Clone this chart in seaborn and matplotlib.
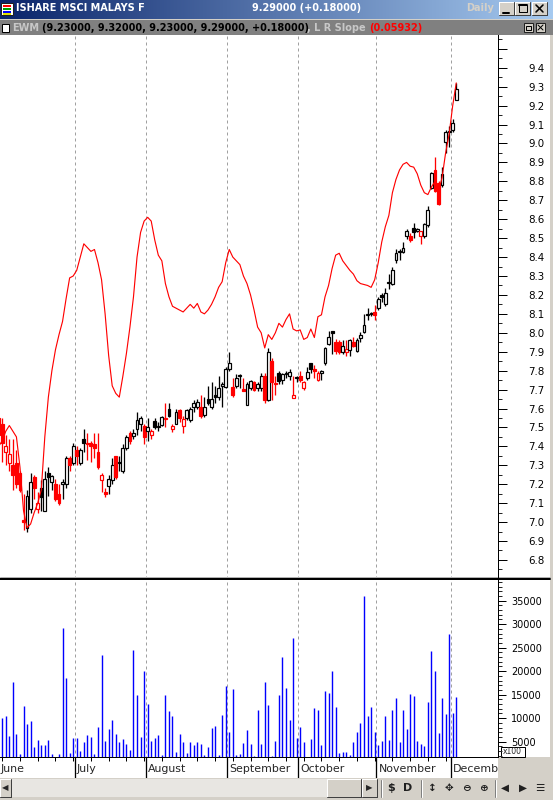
import numpy as np
import matplotlib
matplotlib.use("Agg")
import matplotlib.pyplot as plt
from matplotlib.patches import Rectangle
from matplotlib.colors import LinearSegmentedColormap
from matplotlib.ticker import MultipleLocator
import seaborn as sns

sns.set_style("white")
plt.rcParams['font.family'] = ['DejaVu Sans']

# ---- data (EWM daily, June - early December) ----
opens = [7.55, 7.52, 7.37, 7.31, 7.30, 7.31, 7.26, 7.01, 6.97, 7.07,
         7.24, 7.07, 7.18, 7.06, 7.26, 7.21, 7.20, 7.15, 7.20, 7.20,
         7.34, 7.31, 7.38, 7.31, 7.44, 7.42, 7.42, 7.41, 7.37, 7.22,
         7.16, 7.19, 7.22, 7.35, 7.31, 7.27, 7.39, 7.47, 7.455, 7.49,
         7.52, 7.51, 7.48, 7.46, 7.535, 7.50, 7.515, 7.55, 7.60, 7.49,
         7.52, 7.59, 7.51, 7.55, 7.54, 7.61, 7.61, 7.61, 7.565, 7.65,
         7.61, 7.67, 7.66, 7.72, 7.715, 7.81, 7.715, 7.72, 7.77, 7.705,
         7.62, 7.71, 7.74, 7.71, 7.71, 7.77, 7.645, 7.85, 7.735, 7.79,
         7.75, 7.78, 7.77, 7.657, 7.76, 7.77, 7.71, 7.76, 7.84, 7.81,
         7.75, 7.79, 7.84, 7.94, 8.01, 7.95, 7.95, 7.90, 7.90, 7.91,
         7.95, 7.905, 7.97, 8.006, 8.095, 8.10, 8.11, 8.13, 8.20, 8.15,
         8.265, 8.26, 8.385, 8.425, 8.425, 8.51, 8.51, 8.555, 8.54, 8.51,
         8.51, 8.57, 8.765, 8.86, 8.79, 8.78, 9.01, 9.06, 9.07, 9.23]
highs = [7.59, 7.55, 7.46, 7.44, 7.44, 7.38, 7.27, 7.15, 7.17, 7.26,
         7.25, 7.16, 7.22, 7.27, 7.29, 7.25, 7.23, 7.20, 7.23, 7.35,
         7.35, 7.42, 7.40, 7.39, 7.49, 7.47, 7.43, 7.47, 7.47, 7.26,
         7.18, 7.25, 7.34, 7.35, 7.35, 7.41, 7.46, 7.48, 7.49, 7.58,
         7.56, 7.52, 7.55, 7.49, 7.55, 7.53, 7.56, 7.63, 7.63, 7.52,
         7.60, 7.60, 7.56, 7.60, 7.61, 7.645, 7.65, 7.67, 7.66, 7.72,
         7.74, 7.72, 7.77, 7.74, 7.82, 7.90, 7.76, 7.78, 7.78, 7.76,
         7.74, 7.75, 7.745, 7.74, 7.79, 7.79, 7.92, 7.865, 7.77, 7.80,
         7.785, 7.80, 7.81, 7.77, 7.77, 7.80, 7.745, 7.82, 7.84, 7.83,
         7.80, 7.805, 7.925, 8.01, 8.01, 7.965, 7.96, 7.96, 7.96, 7.965,
         7.98, 7.97, 8.006, 8.10, 8.13, 8.11, 8.145, 8.19, 8.21, 8.235,
         8.31, 8.35, 8.44, 8.44, 8.48, 8.55, 8.525, 8.578, 8.555, 8.54,
         8.58, 8.67, 8.85, 8.93, 8.80, 8.877, 9.07, 9.09, 9.13, 9.32]
lows = [7.40, 7.32, 7.30, 7.27, 7.17, 7.18, 7.16, 6.96, 6.95, 7.05,
        7.12, 7.05, 7.06, 7.06, 7.14, 7.17, 7.11, 7.09, 7.12, 7.18,
        7.27, 7.30, 7.30, 7.30, 7.37, 7.33, 7.32, 7.34, 7.28, 7.16,
        7.13, 7.15, 7.20, 7.23, 7.27, 7.26, 7.38, 7.41, 7.44, 7.46,
        7.48, 7.41, 7.43, 7.44, 7.49, 7.48, 7.51, 7.50, 7.555, 7.475,
        7.52, 7.53, 7.47, 7.54, 7.53, 7.58, 7.60, 7.55, 7.555, 7.62,
        7.60, 7.63, 7.645, 7.61, 7.71, 7.80, 7.66, 7.71, 7.71, 7.69,
        7.62, 7.70, 7.69, 7.69, 7.69, 7.63, 7.64, 7.645, 7.67, 7.73,
        7.73, 7.76, 7.75, 7.655, 7.74, 7.74, 7.70, 7.75, 7.79, 7.76,
        7.745, 7.75, 7.83, 7.935, 7.89, 7.888, 7.89, 7.89, 7.88, 7.88,
        7.925, 7.90, 7.95, 8.00, 8.07, 8.09, 8.067, 8.12, 8.16, 8.14,
        8.23, 8.25, 8.37, 8.385, 8.42, 8.495, 8.48, 8.50, 8.53, 8.47,
        8.50, 8.56, 8.76, 8.745, 8.675, 8.77, 8.95, 8.98, 9.06, 9.23]
closes = [7.46, 7.42, 7.40, 7.36, 7.25, 7.20, 7.17, 7.00, 7.14, 7.21,
          7.18, 7.10, 7.13, 7.23, 7.24, 7.245, 7.12, 7.10, 7.21, 7.34,
          7.30, 7.40, 7.35, 7.38, 7.42, 7.41, 7.40, 7.39, 7.29, 7.25,
          7.15, 7.23, 7.30, 7.24, 7.32, 7.39, 7.45, 7.43, 7.47, 7.54,
          7.55, 7.45, 7.50, 7.48, 7.50, 7.51, 7.555, 7.545, 7.56, 7.51,
          7.58, 7.55, 7.545, 7.59, 7.595, 7.63, 7.635, 7.56, 7.61, 7.63,
          7.65, 7.66, 7.71, 7.73, 7.81, 7.84, 7.67, 7.76, 7.775, 7.695,
          7.73, 7.745, 7.70, 7.73, 7.77, 7.645, 7.90, 7.74, 7.73, 7.745,
          7.78, 7.79, 7.795, 7.67, 7.765, 7.75, 7.74, 7.795, 7.81, 7.80,
          7.79, 7.80, 7.92, 7.98, 8.00, 7.905, 7.90, 7.93, 7.915, 7.96,
          7.93, 7.96, 7.99, 8.04, 8.10, 8.105, 8.095, 8.18, 8.19, 8.21,
          8.27, 8.33, 8.42, 8.43, 8.45, 8.54, 8.49, 8.535, 8.55, 8.54,
          8.575, 8.65, 8.845, 8.75, 8.68, 8.84, 9.06, 9.065, 9.11, 9.29]
# volume in hundreds of shares (axis shows "x100")
volume = [2000, 10100, 10400, 6200, 17700, 6600, 2400, 12600, 8800, 9400,
          3900, 5400, 4300, 4300, 5400, 2400, 1800, 2400, 29200, 18500,
          2600, 5800, 5800, 3000, 4900, 6400, 6000, 2400, 8100, 23400,
          5100, 7700, 9600, 6600, 4900, 5600, 4500, 3200, 24500, 14900,
          6000, 20000, 13000, 5100, 5800, 6400, 2200, 14900, 11500, 10500,
          2800, 6600, 4900, 2600, 4900, 4300, 4900, 4500, 2200, 3900,
          7900, 8300, 2200, 10700, 16800, 7100, 16200, 2200, 2400, 4700,
          7500, 4500, 2000, 11700, 4500, 17700, 12800, 2000, 5100, 14900,
          23000, 16400, 9600, 27000, 5800, 8100, 4900, 1800, 5600, 12200,
          11700, 4300, 15800, 15300, 20000, 12400, 2600, 2800, 2800, 2200,
          4900, 7100, 9000, 36000, 10500, 12400, 7100, 4300, 5100, 10500,
          5400, 11700, 14300, 4900, 11700, 7700, 15100, 14700, 5100, 4500,
          4100, 13400, 24300, 20000, 6800, 14300, 10900, 27900, 11100, 14500]
# L R Slope indicator, drawn on the price scale
lr_slope = [7.40, 7.43, 7.48, 7.51, 7.48, 7.45, 7.29, 7.06, 6.97, 6.99,
            7.05, 7.10, 7.17, 7.45, 7.66, 7.80, 7.91, 7.99, 8.06, 8.18,
            8.29, 8.30, 8.33, 8.40, 8.47, 8.45, 8.43, 8.44, 8.37, 8.28,
            8.10, 7.88, 7.72, 7.68, 7.66, 7.77, 7.89, 8.03, 8.19, 8.40,
            8.53, 8.59, 8.61, 8.59, 8.49, 8.41, 8.38, 8.26, 8.19, 8.14,
            8.13, 8.12, 8.11, 8.13, 8.15, 8.13, 8.155, 8.11, 8.10, 8.12,
            8.15, 8.19, 8.24, 8.27, 8.37, 8.44, 8.40, 8.38, 8.36, 8.30,
            8.26, 8.20, 8.12, 8.03, 8.00, 7.92, 7.99, 7.965, 8.00, 8.05,
            8.03, 8.07, 8.10, 8.02, 8.01, 8.015, 7.965, 7.975, 8.02, 7.975,
            8.085, 8.095, 8.19, 8.25, 8.34, 8.41, 8.42, 8.38, 8.355, 8.33,
            8.31, 8.275, 8.26, 8.255, 8.25, 8.24, 8.28, 8.37, 8.48, 8.56,
            8.62, 8.74, 8.81, 8.86, 8.89, 8.90, 8.88, 8.875, 8.84, 8.78,
            8.74, 8.73, 8.77, 8.80, 8.745, 8.82, 8.95, 9.05, 9.20, 9.32]
months = ["June", "July", "August", "September", "October", "November", "December"]
month_start = [0, 22, 42, 65, 85, 107, 128]   # first bar of each month
price_ticks = [6.8, 6.9, 7.0, 7.1, 7.2, 7.3, 7.4, 7.5, 7.6, 7.7, 7.8, 7.9, 8.0, 8.1,
               8.2, 8.3, 8.4, 8.5, 8.6, 8.7, 8.8, 8.9, 9.0, 9.1, 9.2, 9.3, 9.4]
vol_ticks = [5000, 10000, 15000, 20000, 25000, 30000, 35000]

W, H = 553, 800
PX = 0.72  # one pixel in points


def frac(x0, y0, x1, y1):
    return [x0 / W, 1 - y1 / H, (x1 - x0) / W, (y1 - y0) / H]


fig = plt.figure(figsize=(W / 100, H / 100), dpi=100, facecolor='#d4d0c8')

# ---- window chrome drawn in pixel coordinates ----
bg = fig.add_axes([0, 0, 1, 1], zorder=-5)
bg.set_xlim(0, W)
bg.set_ylim(H, 0)
bg.axis('off')


def button(x, y, w, h):
    bg.add_patch(Rectangle((x, y), w, h, facecolor='#d4d0c8', edgecolor='none'))
    bg.plot([x, x + w], [y, y], color='white', lw=PX)
    bg.plot([x, x], [y, y + h], color='white', lw=PX)
    bg.plot([x, x + w], [y + h, y + h], color='#404040', lw=PX)
    bg.plot([x + w, x + w], [y, y + h], color='#404040', lw=PX)


# title bar gradient
grad = LinearSegmentedColormap.from_list('tb', ['#0a246a', '#a6caf0'])
bg.imshow(np.linspace(0, 1, 256)[None, :], cmap=grad, aspect='auto',
          extent=(0, W, 19, 0), zorder=0)
# small chart icon
bg.add_patch(Rectangle((1, 3), 12, 12, facecolor='white', edgecolor='#202020', lw=PX, zorder=1))
for yy, cc in zip([5, 8, 11], ['#ff0000', '#00a000', '#0000ff']):
    bg.add_patch(Rectangle((3, yy), 8, 2, facecolor=cc, edgecolor='none', zorder=2))
bg.add_patch(Rectangle((3, 13), 8, 1.5, facecolor='#e0e000', edgecolor='none', zorder=2))
bg.text(16, 8, "ISHARE MSCI MALAYS F", color='white', fontsize=7, fontweight='bold',
        va='center', ha='left')
bg.text(252, 8, "9.29000 (+0.18000)", color='white', fontsize=7, fontweight='bold',
        va='center', ha='left')
bg.text(466, 8, "Daily", color='#d4d0c8', fontsize=7, fontweight='bold',
        va='center', ha='left')
for bx in [499, 515, 532]:
    button(bx, 2, 15, 13)
bg.plot([503, 509], [12.5, 12.5], color='black', lw=2 * PX)
bg.add_patch(Rectangle((518.5, 4.5), 8, 7.5, facecolor='none', edgecolor='black', lw=PX))
bg.plot([518.5, 526.5], [5, 5], color='black', lw=2 * PX)
bg.plot([536, 543], [5, 12], color='black', lw=1.6 * PX)
bg.plot([536, 543], [12, 5], color='black', lw=1.6 * PX)

# indicator header bar
bg.add_patch(Rectangle((0, 20), W, 15, facecolor='#808080', edgecolor='none'))
bg.add_patch(Rectangle((1.5, 23.5), 7, 8, facecolor='white', edgecolor='black', lw=PX))
bg.text(12, 27.8, "EWM", color='#c8c8c8', fontsize=7, fontweight='bold', va='center')
bg.text(41.5, 27.8, "(9.23000, 9.32000, 9.23000, 9.29000, +0.18000)", color='black',
        fontsize=7, fontweight='bold', va='center')
bg.text(307, 27.8, ", L R Slope", color='#c8c8c8', fontsize=7, fontweight='bold', va='center')
bg.text(369.5, 27.8, "(0.05932)", color='#ff0000', fontsize=7, fontweight='bold', va='center')
for bx in [524, 536]:
    bg.add_patch(Rectangle((bx, 23), 9, 9, facecolor='#d4d0c8', edgecolor='#202020', lw=PX))
bg.add_patch(Rectangle((526, 25.5), 5, 4, facecolor='none', edgecolor='black', lw=PX))
bg.plot([538, 543], [25, 30], color='black', lw=PX)
bg.plot([538, 543], [30, 25], color='black', lw=PX)

# white chart backdrop and panel separator
bg.add_patch(Rectangle((0, 35), 550, 722, facecolor='white', edgecolor='none'))
bg.plot([0, 550], [576.8, 576.8], color='#b0b0b0', lw=PX)
bg.plot([0, 550], [578.8, 578.8], color='black', lw=2 * PX)

# x100 marker of the volume scale
bg.add_patch(Rectangle((500.5, 746.5), 24, 10.5, facecolor='white', edgecolor='black', lw=PX))
bg.text(512.5, 752, "x100", fontsize=5.5, va='center', ha='center')

# scrollbar and toolbar
button(0, 779, 11, 18)
bg.text(5.5, 788, "◀", fontsize=6, ha='center', va='center')
bg.add_patch(Rectangle((11, 779), 316, 18, facecolor='#e8e6e2', edgecolor='none'))
button(327, 779, 34, 18)
button(362, 779, 15, 18)
bg.text(369.5, 788, "▶", fontsize=6, ha='center', va='center')
for sx in [381, 421, 495]:
    bg.plot([sx, sx], [780, 797], color='#808080', lw=PX)
    bg.plot([sx + 1, sx + 1], [780, 797], color='white', lw=PX)
for tx, sym in zip([391, 408, 432, 449, 466, 483, 505, 523, 540],
                   ["$", "D", "↕", "✥", "⊖", "⊕", "◀", "▶", "☰"]):
    bg.text(tx, 788, sym, fontsize=8 if sym in "$D" else 7.5, fontweight='bold',
            ha='center', va='center', color='#202020')

# ---- shared values ----
idx = np.arange(len(closes))
o, h, l, c = (np.array(v) for v in (opens, highs, lows, closes))
prev = np.r_[np.nan, c[:-1]]
edge = np.where(c >= prev, 'black', '#ff0000')
face = np.where(c >= o, 'white', edge)
xlim = (0.367, 140.77)
bounds = np.array(month_start[1:]) - 0.5
dash = dict(colors='#a0a0a0', linestyles=(0, (3, 3)), lw=PX)

# ---- price panel ----
ax = fig.add_axes(frac(0, 35, 498, 577), zorder=1)
ax.set_facecolor('white')
ax.vlines(bounds, 6.0, 10.0, zorder=1, **dash)
ax.vlines(idx, l, h, colors=edge, lw=1.3 * PX, zorder=2)
ax.bar(idx, np.maximum(np.abs(c - o), 0.004), bottom=np.minimum(o, c), width=0.8,
       color=face, edgecolor=edge, linewidth=1.2 * PX, zorder=3)
sns.lineplot(x=idx, y=lr_slope, ax=ax, color='#ff0000', lw=1.15 * PX, zorder=4)
ax.set_xlim(*xlim)
ax.set_ylim(6.71, 9.573)
ax.set_xticks([])
ax.yaxis.tick_right()
ax.set_yticks(price_ticks + [9.5], labels=[f"{v:.1f}" for v in price_ticks] + [""])
ax.yaxis.set_minor_locator(MultipleLocator(0.05))
ax.tick_params(axis='y', which='major', right=True, length=6.3, width=PX, pad=15.3,
               labelsize=7.4, colors='black')
ax.tick_params(axis='y', which='minor', right=True, length=2.8, width=PX)
for s in ['top', 'left', 'bottom']:
    ax.spines[s].set_visible(False)
ax.spines['right'].set_color('black')
ax.spines['right'].set_linewidth(PX)
ax.set_xlabel('')
ax.set_ylabel('')

# ---- volume panel ----
av = fig.add_axes(frac(0, 580, 498, 757), zorder=1)
av.set_facecolor('white')
av.vlines(bounds, 0, 50000, zorder=1, **dash)
av.vlines(idx, 0, volume, colors='#0000ff', lw=1.4 * PX, zorder=2)
av.set_xlim(*xlim)
av.set_ylim(1745, 39400)
av.set_xticks([])
av.yaxis.tick_right()
av.set_yticks(vol_ticks, labels=[str(v) for v in vol_ticks])
av.yaxis.set_minor_locator(MultipleLocator(1000))
av.tick_params(axis='y', which='major', right=True, length=6.1, width=PX, pad=3.2,
               labelsize=7, colors='black')
av.tick_params(axis='y', which='minor', right=True, length=2.9, width=PX)
for s in ['top', 'left']:
    av.spines[s].set_visible(False)
for s in ['right', 'bottom']:
    av.spines[s].set_color('black')
    av.spines[s].set_linewidth(PX)

# ---- month strip ----
am = fig.add_axes(frac(0, 757, 498, 778), zorder=0.5)
am.set_facecolor('white')
am.set_xlim(*xlim)
am.set_ylim(0, 1)
am.axis('off')
am.add_patch(Rectangle((xlim[0], 0), xlim[1] - xlim[0], 1, facecolor='white',
                       edgecolor='none', zorder=0))
am.vlines(np.arange(1, len(closes), 5), 0.82, 1.0, colors='black', lw=PX)
am.vlines(bounds, 0, 1, colors='black', lw=1.3 * PX)
for start, name in zip(month_start, months):
    xpos = max(start - 0.5 + 0.55, xlim[0] + 0.2)
    am.text(xpos, 0.42, name, fontsize=7.9, ha='left', va='center', clip_on=True)

fig.savefig("out.png", dpi=100, facecolor=fig.get_facecolor())
